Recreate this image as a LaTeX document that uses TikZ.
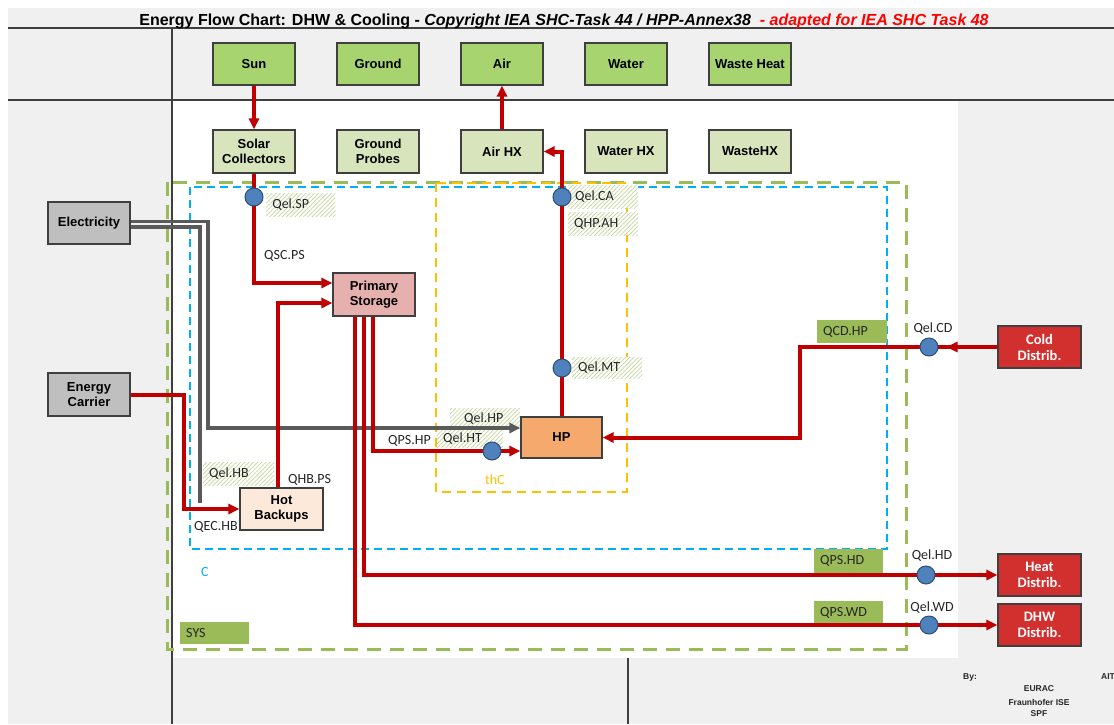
\documentclass[tikz,border=0pt]{standalone}
\usepackage{fontspec}
\setmainfont{Liberation Sans}
\newfontfamily\calibri{Carlito}
\usetikzlibrary{arrows.meta,patterns.meta}

\definecolor{bg}{HTML}{F0F0F0}
\definecolor{frame}{HTML}{3F3F3F}
\definecolor{srcgreen}{HTML}{A8D46F}
\definecolor{hxgreen}{HTML}{D8E4BC}
\definecolor{elgray}{HTML}{BFBFBF}
\definecolor{storepink}{HTML}{E6B0AF}
\definecolor{backup}{HTML}{FDE9D9}
\definecolor{hporange}{HTML}{F6A96C}
\definecolor{distred}{HTML}{D22F2F}
\definecolor{flowred}{HTML}{C00000}
\definecolor{elline}{HTML}{5A5A5A}
\definecolor{sensor}{HTML}{4F81BD}
\definecolor{sensoredge}{HTML}{2C4D75}
\definecolor{sysgreen}{HTML}{9BBB59}
\definecolor{cblue}{HTML}{00B0F0}
\definecolor{thcorange}{HTML}{FFC000}
\definecolor{hatch}{HTML}{C3D69B}
\definecolor{titlered}{HTML}{FF0000}

\begin{document}
\begin{tikzpicture}[x=1pt,y=-1pt,
  box/.style={draw=frame, line width=1.2pt, minimum width=82pt, minimum height=42pt,
    inner sep=0pt, align=center, font=\fontsize{13}{15}\selectfont\bfseries},
  srcbox/.style={box, fill=srcgreen},
  hxbox/.style={box, fill=hxgreen},
  extbox/.style={box, fill=elgray},
  storebox/.style={box, fill=storepink},
  backupbox/.style={box, fill=backup},
  hpbox/.style={box, fill=hporange, minimum width=81pt, minimum height=41pt},
  distbox/.style={box, fill=distred, text=white, minimum width=83pt,
    font=\calibri\fontsize{14.5}{16}\selectfont\bfseries},
  flowtip/.style={-{Triangle[length=11pt,width=10pt]}},
  flow/.style={draw=flowred, line width=4pt, flowtip},
  elflow/.style={draw=elline, line width=3.2pt},
  sensornode/.style={circle, draw=sensoredge, line width=1pt, fill=sensor,
    minimum size=18pt, inner sep=0pt},
  lbl/.style={font=\calibri\fontsize{14}{15}\selectfont, text=black!85, inner sep=0pt},
  hatchlbl/.style={lbl, anchor=north west, preaction={fill=white},
    pattern={Lines[angle=45,distance=3pt,line width=0.7pt]}, pattern color=hatch,
    align=left, inner xsep=6pt, inner ysep=0pt},
  greenlbl/.style={lbl, anchor=north west, fill=sysgreen, align=left,
    inner xsep=6pt, inner ysep=0pt},
  sysbox/.style={draw=sysgreen, line width=3pt, dash pattern=on 14pt off 9pt},
  cbox/.style={draw=cblue, line width=1.5pt, dash pattern=on 8pt off 5pt},
  thcbox/.style={draw=thcorange, line width=2pt, dash pattern=on 9pt off 6pt},
  credit/.style={font=\fontsize{8.5}{10}\selectfont\bfseries, text=black!85, inner sep=0pt}
]
\useasboundingbox (0,0) rectangle (1114,724);

% sheet background and grid lines
\fill[white] (0,0) rectangle (1114,724);
\fill[bg] (8,8) rectangle (1114,724);
\fill[white] (172,100) rectangle (958,658);
\draw[frame, line width=1.2pt] (8,28) -- (1114,28) (8,100) -- (1114,100)
  (172,28) -- (172,724) (628,658) -- (628,724);

% title
\node[inner sep=0pt, anchor=base, font=\fontsize{16}{18}\selectfont\bfseries] (title) at (564,25)
  {Energy Flow Chart: DHW \& Cooling - \textit{Copyright IEA SHC-Task 44 / HPP-Annex38}
   \textcolor{titlered}{\textit{ - adapted for IEA SHC Task 48}}};

% system boundaries
\draw[sysbox] (167,182) rectangle (906,649);
\draw[cbox] (190,187) rectangle (887,549);
\draw[thcbox] (436,183) rectangle (627,492);
\node[lbl, text=cblue, anchor=west] (clabel) at (201,572) {C};
\node[lbl, text=thcorange, anchor=west] (thclabel) at (485,480) {thC};

% hatched electricity labels
\node[hatchlbl, text width=57pt, minimum height=23pt] (lqelsp) at (266,193) {Qel.SP};
\node[hatchlbl, text width=58pt, minimum height=23pt] (lqelca) at (568,185) {\hspace*{1pt}Qel.CA};
\node[hatchlbl, text width=58pt, minimum height=23pt] (lqhpah) at (568,212) {QHP.AH};
\node[hatchlbl, text width=58pt, minimum height=21pt] (lqelmt) at (572,357) {Qel.MT};
\node[hatchlbl, text width=58pt, minimum height=20pt] (lqelhp) at (450,408) {\hspace*{8pt}Qel.HP};
\node[hatchlbl, text width=54pt, minimum height=17pt] (lqelht) at (437,430) {Qel.HT};
\node[hatchlbl, text width=59pt, minimum height=23pt] (lqelhb) at (203,462) {Qel.HB};

% green system labels
\node[greenlbl, text width=58pt, minimum height=23pt] (lqcdhp) at (817,320) {QCD.HP};
\node[greenlbl, text width=57pt, minimum height=24pt] (lqpshd) at (814,549) {QPS.HD};
\node[greenlbl, text width=57pt, minimum height=23pt] (lqpswd) at (814,601) {QPS.WD};
\node[greenlbl, text width=57pt, minimum height=22pt] (lsys) at (180,622) {SYS};

% components
\node[srcbox] (sun) at (254,64) {Sun};
\node[srcbox] (ground) at (378,64) {Ground};
\node[srcbox] (air) at (502,64) {Air};
\node[srcbox] (water) at (626,64) {Water};
\node[srcbox] (waste) at (750,64) {Waste Heat};

\node[hxbox, minimum height=43pt] (solar) at (254,151.5) {Solar\\Collectors};
\node[hxbox, minimum height=43pt] (probes) at (378,151.5) {Ground\\Probes};
\node[hxbox, minimum height=43pt] (airhx) at (502,151.5) {Air HX};
\node[hxbox, minimum height=43pt] (waterhx) at (626,151.5) {Water HX};
\node[hxbox, minimum height=43pt] (wastehx) at (750,151.5) {WasteHX};

\node[extbox] (elec) at (89,223) {Electricity};
\node[extbox, minimum height=43pt] (carrier) at (89,394.5) {Energy\\Carrier};

\node[storebox, minimum height=43pt] (store) at (374,294.5) {Primary\\Storage};
\node[backupbox, minimum width=83pt] (backups) at (281.5,509) {Hot\\Backups};
\node[hpbox] (hp) at (561.5,437.5) {HP};

\node[distbox] (cold) at (1039.5,347) {Cold\\Distrib.};
\node[distbox] (heat) at (1039.5,575) {Heat\\Distrib.};
\node[distbox] (dhw) at (1039.5,625) {DHW\\Distrib.};

% bend points of the pipes
\coordinate (carrierbend) at (184,509);
\coordinate (coldbend) at (800,347);
\coordinate (elhpbend) at (208,428);
\coordinate (elhbend) at (200,503);

% electricity supply lines
\draw[elflow, -{Triangle[length=11pt,width=10pt]}] ([yshift=1.5pt]elec.east) -| (elhpbend)
  -- ([yshift=9.5pt]hp.west);
\draw[elflow] ([yshift=-4pt]elec.east) -| (elhbend);

% heat flows
\draw[flow] (sun.south) -- (solar.north);
\draw[flow] (airhx.north) -- (air.south);
\draw[flow] (solar.south) |- ([yshift=11.5pt]store.west);
\draw[flow] ([xshift=-3.5pt]backups.north) |- ([yshift=-8.5pt]store.west);
\draw[flow] (carrier.east) -| (carrierbend) -- (backups.west);
\draw[flow] ([xshift=-1pt]store.south) |- ([yshift=-13.5pt]hp.west);
\draw[flow] ([xshift=-10pt]store.south) |- (heat.west);
\draw[flow] ([xshift=-19pt]store.south) |- (dhw.west);
\draw[flow] (hp.north) |- (airhx.east);
\draw[flow] (cold.west) -- (coldbend) |- (hp.east);

% sensors
\node[sensornode] (qelsp) at (254,197) {};
\node[sensornode] (qelca) at (562,197) {};
\node[sensornode] (qelmt) at (562,368) {};
\node[sensornode] (qelht) at (492,451) {};
\node[sensornode] (qelcd) at (929,347) {};
\node[sensornode] (qelhd) at (926,575) {};
\node[sensornode] (qelwd) at (929,625) {};
\draw[flow] (cold.west) -- ([xshift=8pt]qelcd.east);

% plain flow labels
\node[lbl, anchor=west] (lqscps) at (264,256) {QSC.PS};
\node[lbl, anchor=west] (lqhbps) at (288,480) {QHB.PS};
\node[lbl, anchor=west] (lqechb) at (194,527) {QEC.HB};
\node[lbl, anchor=west] (lqpshp) at (388,441) {QPS.HP};
\node[lbl] (lqelcd) at (933,329) {Qel.CD};
\node[lbl] (lqelhd) at (932,556) {Qel.HD};
\node[lbl] (lqelwd) at (932,608) {Qel.WD};

% credits
\node[credit, anchor=west] (by) at (963,677) {By:};
\node[credit] (eurac) at (1039,689) {EURAC};
\node[credit] (ise) at (1039,702) {Fraunhofer ISE};
\node[credit] (spf) at (1039,714) {SPF};
\node[credit, anchor=west] (ait) at (1101,677) {AIT};
\end{tikzpicture}
\end{document}
